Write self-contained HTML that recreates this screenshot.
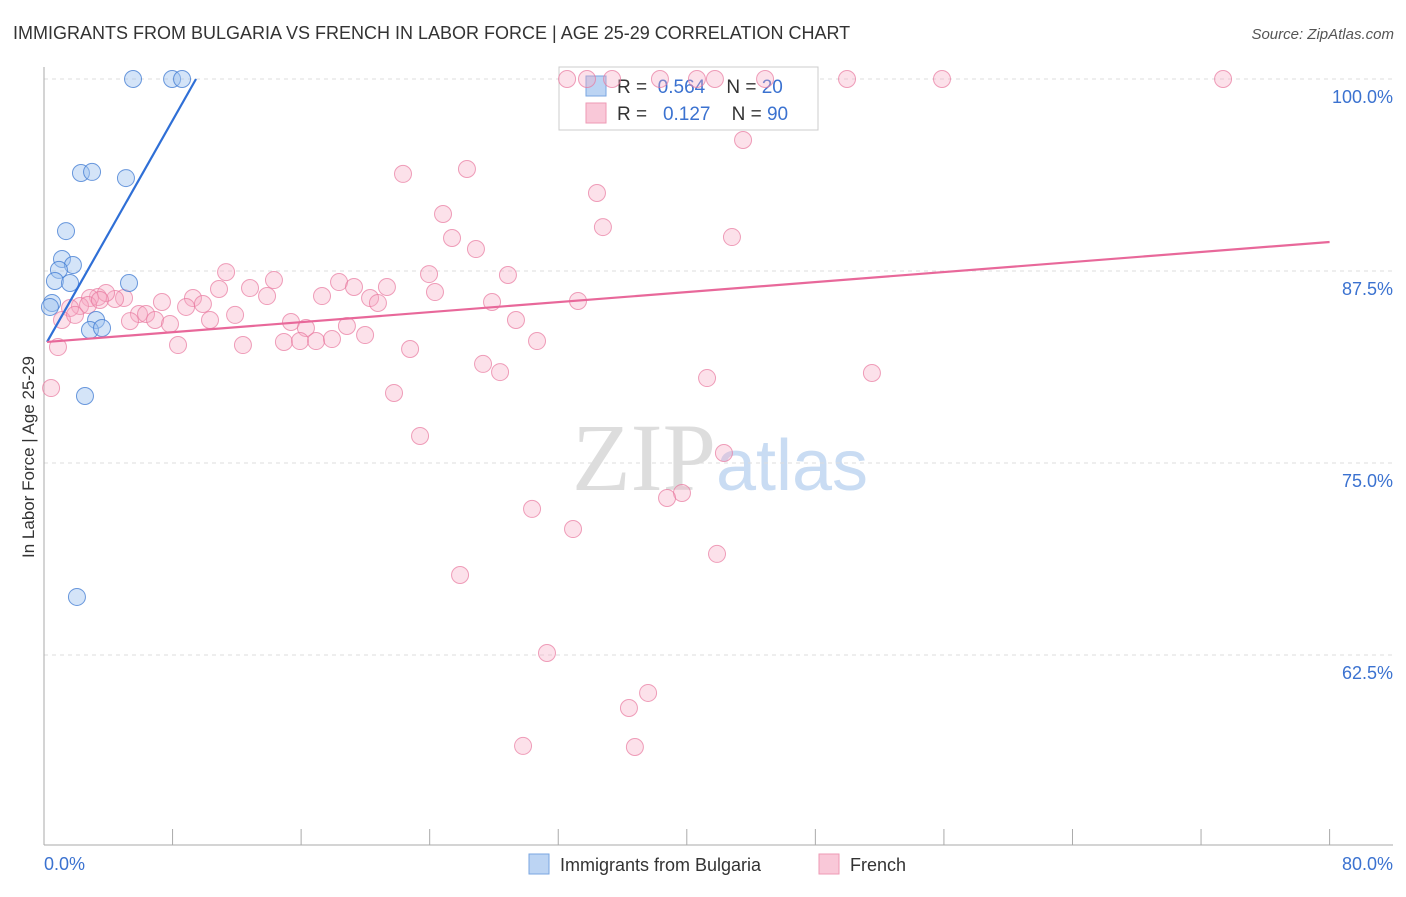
<!DOCTYPE html>
<html><head><meta charset="utf-8"><style>
body{margin:0;background:#fff;font-family:"Liberation Sans",sans-serif;}
svg text{font-family:"Liberation Sans",sans-serif;white-space:pre;}
</style></head><body>
<svg id="chart" width="1406" height="892" xmlns="http://www.w3.org/2000/svg">
<text x="13" y="39" font-size="18" fill="#333">IMMIGRANTS FROM BULGARIA VS FRENCH IN LABOR FORCE | AGE 25-29 CORRELATION CHART</text>
<text x="1394" y="39" font-size="15" fill="#555" text-anchor="end" font-style="italic">Source: ZipAtlas.com</text>
<text x="720" y="490" font-size="96" text-anchor="middle"><tspan fill="#ddd" font-family="Liberation Serif">ZIP</tspan><tspan fill="#c9dcf3" font-size="72">atlas</tspan></text>
<g id="grid"></g><g id="axes"></g>
<g>
<rect x="559" y="67" width="259" height="63" fill="#fff" stroke="#ccc"/>
<rect x="586" y="76" width="20" height="20" fill="#bcd4f3" stroke="#7aa6e0"/>
<rect x="586" y="103" width="20" height="20" fill="#f9c8d8" stroke="#ee9ab5"/>
<text x="617" y="93" font-size="19" fill="#333" xml:space="preserve">R =  <tspan fill="#3b72d0">0.564</tspan>    N = <tspan fill="#3b72d0">20</tspan></text>
<text x="617" y="120" font-size="19" fill="#333" xml:space="preserve">R =   <tspan fill="#3b72d0">0.127</tspan>    N = <tspan fill="#3b72d0">90</tspan></text>
</g>
<g id="marks"></g>
<text transform="translate(34,457) rotate(-90)" font-size="17" fill="#333" text-anchor="middle">In Labor Force | Age 25-29</text>
<g>
<rect x="529" y="854" width="20" height="20" fill="#bcd4f3" stroke="#7aa6e0"/>
<text x="560" y="871" font-size="18" fill="#333">Immigrants from Bulgaria</text>
<rect x="819" y="854" width="20" height="20" fill="#f9c8d8" stroke="#ee9ab5"/>
<text x="850" y="871" font-size="18" fill="#333">French</text>
</g>
</svg>
<script>
const xTicks=[0,8,16,24,32,40,48,56,64,72,80];
const yTicks=[100,87.5,75,62.5];
const yTickLabels=["100.0%","87.5%","75.0%","62.5%"];
const xEndLabels=["0.0%","80.0%"];
const blueX=[5.54,7.97,8.59,2.30,2.99,5.10,1.37,1.12,1.80,0.93,0.68,1.62,5.29,0.50,0.37,3.24,2.86,3.61,2.55,2.05];
const blueY=[100,100,100,93.88,93.95,93.55,90.10,88.28,87.89,87.57,86.85,86.72,86.72,85.42,85.16,84.31,83.66,83.79,79.36,66.28];
const pinkX=[32.55,33.79,35.35,38.33,40.63,41.75,44.87,49.97,55.88,73.37,43.50,22.34,26.32,34.41,24.83,34.78,42.81,25.39,26.88,11.33,14.31,23.96,28.87,18.36,19.29,12.82,21.34,10.89,13.88,17.30,24.33,20.29,20.78,27.88,33.23,9.27,9.89,7.34,8.84,4.98,4.42,3.36,2.86,3.86,2.24,1.62,5.91,6.35,6.91,7.84,5.35,10.33,11.89,15.37,16.30,18.85,19.98,14.93,15.93,16.93,17.92,8.34,12.38,22.78,29.37,30.68,27.32,28.38,41.26,51.52,21.78,23.40,42.31,39.70,38.77,30.37,32.92,41.88,25.89,31.30,37.59,36.40,29.81,36.77,0.87,0.44,1.12,2.74,3.48,1.93];
const pinkY=[100,100,100,100,100,100,100,100,100,100,96.03,93.82,94.14,92.58,91.21,90.36,89.71,89.65,88.93,87.43,86.91,87.30,87.24,86.78,86.46,86.39,86.46,86.33,85.87,85.87,86.13,85.74,85.42,85.48,85.55,85.74,85.35,85.48,85.16,85.74,85.68,85.81,85.74,86.07,85.22,85.09,84.70,84.70,84.31,84.05,84.24,84.31,84.64,84.18,83.79,83.92,83.33,82.88,82.94,82.94,83.07,82.68,82.68,82.42,84.31,82.94,81.45,80.92,80.53,80.86,79.56,76.76,75.65,73.05,72.72,72.01,70.70,69.08,67.71,62.63,60.03,59.05,56.58,56.51,82.55,79.88,84.31,85.29,85.61,84.64];
const blueTrendX=[0.19,9.46], blueTrendY=[82.88,100];
const pinkTrendX=[0.19,80], pinkTrendY=[82.88,89.39];
const X=v=>44+v*16.07, Y=v=>79+(100-v)*15.36;
const NS="http://www.w3.org/2000/svg";
function mk(parent,tag,attrs){const e=document.createElementNS(NS,tag);for(const k in attrs)e.setAttribute(k,attrs[k]);document.getElementById(parent).appendChild(e);return e;}
yTicks.forEach((t,i)=>{
 const g=mk('grid','line',{x1:44,x2:1393,y1:Y(t),y2:Y(t),stroke:'#ddd','stroke-dasharray':'4,4'});
 
 
 const l=mk('axes','text',{x:1393,y:Y(t)+24,'font-size':18,fill:'#3b72d0','text-anchor':'end'});
 l.textContent=yTickLabels[i];
 
 
});
const ya=mk('axes','line',{x1:44,x2:44,y1:67,y2:845,stroke:'#aaa'});


const xa=mk('axes','line',{x1:44,x2:1393,y1:845,y2:845,stroke:'#aaa'});


xTicks.forEach(t=>{
 const k=mk('axes','line',{x1:X(t),x2:X(t),y1:829,y2:845,stroke:'#aaa'});
 
 
});
[[0,'start',44],[80,'end',1393]].forEach((d,i)=>{
 const l=mk('axes','text',{x:d[2],y:870,'font-size':18,fill:'#3b72d0','text-anchor':d[1]});
 l.textContent=xEndLabels[i];
 
 
});
pinkX.forEach((v,i)=>{
 const c=mk('marks','circle',{cx:X(v),cy:Y(pinkY[i]),r:8.5,fill:'rgba(246,170,196,0.35)',stroke:'rgba(232,120,158,0.7)','stroke-width':1});
 
 
});
blueX.forEach((v,i)=>{
 const c=mk('marks','circle',{cx:X(v),cy:Y(blueY[i]),r:8.5,fill:'rgba(160,196,240,0.45)',stroke:'rgba(60,120,210,0.75)','stroke-width':1});
 
 
});
const bl=mk('marks','line',{x1:X(blueTrendX[0]),y1:Y(blueTrendY[0]),x2:X(blueTrendX[1]),y2:Y(blueTrendY[1]),stroke:'#2f6fd6','stroke-width':2.2});


const pl=mk('marks','line',{x1:X(pinkTrendX[0]),y1:Y(pinkTrendY[0]),x2:X(pinkTrendX[1]),y2:Y(pinkTrendY[1]),stroke:'#e8689a','stroke-width':2.2});


</script>
</body></html>
